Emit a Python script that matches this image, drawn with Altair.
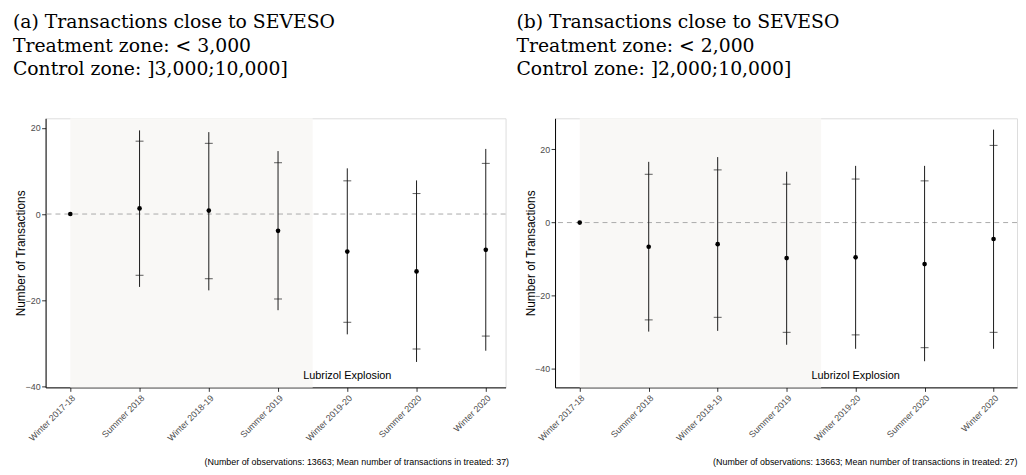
import altair as alt
import pandas as pd

periods = ["Winter 2017-18", "Summer 2018", "Winter 2018-19", "Summer 2019",
           "Winter 2019-20", "Summer 2020", "Winter 2020"]
pos = [1, 2, 3, 4, 5, 6, 7]

# Panel (a): treatment < 3,000
a_est = [0.0, 1.3, 0.8, -3.9, -8.7, -13.3, -8.3]
a_in_lo = [None, -14.2, -15.0, -19.7, -25.1, -31.3, -28.3]
a_in_hi = [None, 16.9, 16.4, 11.9, 7.7, 4.75, 11.75]
a_out_lo = [None, -16.9, -17.7, -22.3, -27.9, -34.3, -31.7]
a_out_hi = [None, 19.4, 19.0, 14.6, 10.6, 7.8, 15.1]

# Panel (b): treatment < 2,000
b_est = [0.0, -6.6, -5.9, -9.7, -9.5, -11.35, -4.5]
b_in_lo = [None, -26.6, -25.9, -30.0, -30.7, -34.2, -30.0]
b_in_hi = [None, 13.2, 14.4, 10.5, 11.9, 11.4, 21.1]
b_out_lo = [None, -29.8, -29.6, -33.4, -34.5, -37.9, -34.5]
b_out_hi = [None, 16.6, 17.9, 13.9, 15.5, 15.5, 25.4]

a_title = ["(a) Transactions close to SEVESO", "Treatment zone: < 3,000",
           "Control zone: ]3,000;10,000]"]
b_title = ["(b) Transactions close to SEVESO", "Treatment zone: < 2,000",
           "Control zone: ]2,000;10,000]"]
a_caption = "(Number of observations: 13663; Mean number of transactions in treated: 37)"
b_caption = "(Number of observations: 13663; Mean number of transactions in treated: 27)"

shade_start, shade_end = 1, 4.5
event_label = "Lubrizol Explosion"
event_pos = 5
a_label_y = -37.6
b_label_y = -42.0

a_ydom = [-40.2, 22.2]
b_ydom = [-45.05, 28.5]
a_xdom = [0.643, 7.286]
b_xdom = [0.642, 7.34]

label_expr = "[" + ",".join("'%s'" % p for p in periods) + "][datum.value - 1]"


def panel(est, in_lo, in_hi, out_lo, out_hi, title, caption, ydom, xdom, label_y,
          width, title_dx, cap_dx):
    df = pd.DataFrame({"pos": pos, "period": periods, "est": est,
                       "in_lo": in_lo, "in_hi": in_hi,
                       "out_lo": out_lo, "out_hi": out_hi})
    xscale = alt.Scale(domain=xdom, nice=False, zero=False)
    yscale = alt.Scale(domain=ydom, nice=False, zero=False)
    xaxis = alt.Axis(values=pos, labelExpr=label_expr, labelAngle=315,
                     labelAlign="right", labelBaseline="top", labelFontSize=9,
                     labelColor="#4D4D4D", labelFont="Liberation Sans",
                     tickSize=4, tickColor="#333333", domainColor="#000000",
                     labelPadding=2, grid=False, title=caption,
                     titleFont="Liberation Sans", titleFontSize=9,
                     titleFontWeight="normal", titleColor="#000000",
                     titleAnchor="end", titleAlign="right",
                     titleBaseline="alphabetic", titleY=78,
                     titleX=width + cap_dx)
    yaxis = alt.Axis(values=[-40, -20, 0, 20], labelFontSize=9,
                     labelColor="#4D4D4D", labelFont="Liberation Sans",
                     tickSize=4, tickColor="#333333", domainColor="#000000",
                     labelPadding=1.5, grid=False, title="Number of Transactions",
                     titleFont="Liberation Sans", titleFontSize=12,
                     titleFontWeight="normal", titleColor="#000000",
                     titleX=-21, titleBaseline="alphabetic")

    shade_df = pd.DataFrame({"x1": [shade_start], "x2": [shade_end],
                             "y1": [ydom[0]], "y2": [ydom[1]]})
    shade = alt.Chart(shade_df).mark_rect(color="#F9F8F6").encode(
        x=alt.X("x1:Q", scale=xscale, axis=xaxis),
        x2="x2:Q",
        y=alt.Y("y1:Q", scale=yscale, axis=yaxis),
        y2="y2:Q",
    )
    zero = alt.Chart(pd.DataFrame({"y": [0]})).mark_rule(
        color="#AAAAAA", strokeDash=[5, 4], strokeWidth=1).encode(
        y=alt.Y("y:Q", scale=yscale))
    base = alt.Chart(df)
    bars = base.transform_filter("isValid(datum.out_lo)").mark_rule(
        color="#1A1A1A", strokeWidth=1).encode(
        x=alt.X("pos:Q", scale=xscale),
        y=alt.Y("out_lo:Q", scale=yscale),
        y2="out_hi:Q",
    )
    tick_lo = base.transform_filter("isValid(datum.in_lo)").mark_tick(
        orient="horizontal", color="#1A1A1A", thickness=1, size=8).encode(
        x=alt.X("pos:Q", scale=xscale),
        y=alt.Y("in_lo:Q", scale=yscale),
    )
    tick_hi = base.transform_filter("isValid(datum.in_hi)").mark_tick(
        orient="horizontal", color="#1A1A1A", thickness=1, size=8).encode(
        x=alt.X("pos:Q", scale=xscale),
        y=alt.Y("in_hi:Q", scale=yscale),
    )
    pts = base.mark_circle(color="#000000", size=22, opacity=1).encode(
        x=alt.X("pos:Q", scale=xscale),
        y=alt.Y("est:Q", scale=yscale),
    )
    txt = alt.Chart(pd.DataFrame({"x": [event_pos], "y": [label_y],
                                  "t": [event_label]})).mark_text(
        font="Liberation Sans", fontSize=11, color="#000000",
        align="center", baseline="middle").encode(
        x=alt.X("x:Q", scale=xscale),
        y=alt.Y("y:Q", scale=yscale),
        text="t:N",
    )
    return alt.layer(shade, zero, bars, tick_lo, tick_hi, pts, txt).properties(
        width=width, height=272,
        title=alt.TitleParams(text=title, anchor="start", font="DejaVu Serif",
                              fontSize=19, fontWeight="normal", lineHeight=23.5,
                              color="#000000", offset=40, dx=title_dx),
    )


pa = panel(a_est, a_in_lo, a_in_hi, a_out_lo, a_out_hi, a_title, a_caption,
           a_ydom, a_xdom, a_label_y, 465, -2, 3)
pb = panel(b_est, b_in_lo, b_in_hi, b_out_lo, b_out_hi, b_title, b_caption,
           b_ydom, b_xdom, b_label_y, 467, -8, 0)

chart = alt.hconcat(pa, pb, spacing=6).properties(
    padding={"left": 4, "top": 2, "right": 0, "bottom": 0}
).configure_view(stroke=None).configure(background="white")

chart.save("out.html", embed_options={"renderer": "svg", "actions": False})
